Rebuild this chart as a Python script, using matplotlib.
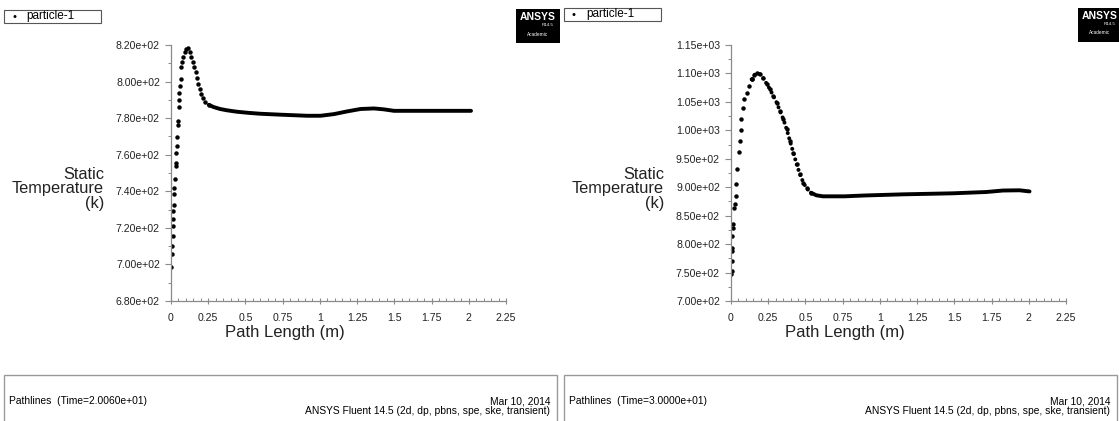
import numpy as np
import matplotlib.pyplot as plt
from matplotlib.patches import Rectangle
from matplotlib.ticker import MultipleLocator, FormatStrFormatter

plt.rcParams['font.family'] = ['Liberation Sans', 'DejaVu Sans']

# ---- data: path length (m) vs static temperature (K) ----
# left panel (Time=2.0060e+01)
left_dots_x = [0.002, 0.007, 0.009, 0.013, 0.013, 0.016, 0.016, 0.018, 0.020, 0.022,
               0.029, 0.031, 0.034, 0.036, 0.038, 0.040, 0.045, 0.049, 0.054, 0.056,
               0.056, 0.061, 0.065, 0.067, 0.076, 0.081, 0.092, 0.103, 0.115, 0.126,
               0.135, 0.146, 0.155, 0.166, 0.175, 0.184, 0.193, 0.204, 0.216, 0.231,
               0.254]
left_dots_t = [698.4, 705.7, 710.0, 715.7, 721.0, 724.8, 729.0, 732.6, 738.5, 741.6,
               746.7, 753.6, 755.4, 760.7, 764.6, 769.5, 776.2, 778.3, 786.2, 790.0,
               793.5, 797.7, 801.4, 807.8, 810.5, 813.2, 816.0, 817.8, 818.2, 816.0,
               813.2, 810.5, 807.8, 805.0, 801.8, 798.6, 795.9, 793.2, 790.8, 789.0,
               787.3]
left_trace_x = [0.254, 0.285, 0.33, 0.375, 0.443, 0.52, 0.6, 0.734, 0.914, 1.004,
                1.094, 1.184, 1.273, 1.363, 1.43, 1.498, 1.6, 1.8, 2.015]
left_trace_t = [787.3, 786.1, 785.0, 784.3, 783.5, 782.9, 782.4, 781.9, 781.3, 781.3,
                782.2, 783.7, 785.0, 785.3, 784.8, 784.0, 784.0, 784.0, 784.0]

# right panel (Time=3.0000e+01)
right_dots_x = [0.0, 0.004, 0.004, 0.004, 0.009, 0.009, 0.013, 0.016, 0.022, 0.027,
                0.031, 0.036, 0.043, 0.054, 0.060, 0.065, 0.069, 0.078, 0.090, 0.105,
                0.121, 0.139]
right_dots_t = [748.0, 752.7, 770.3, 787.9, 793.7, 814.3, 828.9, 834.8, 864.0, 870.0,
                884.6, 906.2, 932.6, 961.9, 981.2, 1000.6, 1019.4, 1039.8, 1054.5, 1066.2,
                1077.9, 1089.7]
right_fall_x = [0.139, 0.157, 0.177, 0.195, 0.217, 0.239, 0.262, 0.284, 0.307, 0.329,
                0.352, 0.374, 0.396, 0.419, 0.441, 0.463, 0.486, 0.508, 0.537]
right_fall_t = [1089.7, 1097.3, 1100.2, 1098.5, 1091.5, 1082.0, 1072.1, 1060.4, 1048.6, 1034.0,
                1019.4, 1001.8, 981.2, 960.7, 940.3, 922.7, 908.0, 898.1, 890.4]
right_trace_x = [0.537, 0.573, 0.617, 0.763, 0.9, 1.155, 1.49, 1.715, 1.826, 1.938, 2.005]
right_trace_t = [890.4, 885.8, 884.0, 884.0, 885.5, 887.5, 889.3, 891.6, 894.2, 894.6, 892.6]

panels = [
    dict(dx=left_dots_x, dt=left_dots_t, fx=[], ft=[], tx=left_trace_x, tt=left_trace_t,
         ylim=(680, 820), major=20, minor=10, time="2.0060e+01", off=0),
    dict(dx=right_dots_x, dt=right_dots_t, fx=right_fall_x, ft=right_fall_t,
         tx=right_trace_x, tt=right_trace_t,
         ylim=(700, 1150), major=50, minor=25, time="3.0000e+01", off=560),
]

W, H = 1119, 421
fig = plt.figure(figsize=(W / 100, H / 100), dpi=100)


def fx(px):
    return px / W


def fy(py):
    return 1 - py / H


axis_grey = "#8a8a8a"
for p in panels:
    o = p["off"]
    x0 = 171 + o
    ax = fig.add_axes([fx(x0), fy(301), 335 / W, 256 / H])
    ax.plot(p["dx"], p["dt"], "o", color="black", ms=3.2, mew=0)
    if p["fx"]:
        ax.plot(p["fx"], p["ft"], "o", color="black", ms=3.2, mew=0)
        ax.plot(p["fx"], p["ft"], color="black", lw=2.9,
                linestyle=(0, (0.01, 1.35)), dash_capstyle="round")
    ax.plot(p["tx"], p["tt"], color="black", lw=2.8, solid_capstyle="round")

    ax.set_xlim(0, 2.25)
    ax.set_ylim(*p["ylim"])
    ax.xaxis.set_major_locator(MultipleLocator(0.25))
    ax.xaxis.set_minor_locator(MultipleLocator(0.05))
    ax.yaxis.set_major_locator(MultipleLocator(p["major"]))
    ax.yaxis.set_minor_locator(MultipleLocator(p["minor"]))
    ax.xaxis.set_major_formatter(lambda v, pos: ("%g" % v))
    ax.yaxis.set_major_formatter(FormatStrFormatter("%.2e"))
    for s in ["top", "right"]:
        ax.spines[s].set_visible(False)
    for s in ["left", "bottom"]:
        ax.spines[s].set_color(axis_grey)
        ax.spines[s].set_linewidth(0.9)
    ax.tick_params(axis="x", which="major", direction="inout", length=5, width=0.8,
                   color=axis_grey, labelsize=7.6, pad=6, labelcolor="#222222")
    ax.tick_params(axis="x", which="minor", direction="in", length=2.5, width=0.7,
                   color=axis_grey)
    ax.tick_params(axis="y", which="major", direction="out", length=4, width=0.8,
                   color=axis_grey, labelsize=7.6, pad=4, labelcolor="#222222")
    ax.tick_params(axis="y", which="minor", direction="out", length=2.5, width=0.7,
                   color=axis_grey)
    ax.patch.set_alpha(0)

    # axis titles
    fig.text(fx(104 + o), fy(189), "Static\nTemperature\n(k)", ha="right", va="center",
             multialignment="right", fontsize=11.8, linespacing=0.95, color="#222222")
    fig.text(fx(285 + o), fy(333), "Path Length (m)", ha="center", va="center",
             fontsize=12, color="#222222")

    # legend box
    ly = 10 if o == 0 else 8
    fig.patches.append(Rectangle((fx(4 + o), fy(ly + 13)), 97 / W, 13 / H,
                                 transform=fig.transFigure, fill=False,
                                 edgecolor="#555555", lw=0.8))
    fig.text(fx(14 + o), fy(ly + 6.5), "\u2022", ha="center", va="center", fontsize=8)
    fig.text(fx(26 + o), fy(ly + 6.5), "particle-1", ha="left", va="center", fontsize=8.5)

    # ANSYS badge
    bx = 516 if o == 0 else 1078
    by = 9 if o == 0 else 8
    fig.patches.append(Rectangle((fx(bx), fy(by + 34)), 44 / W, 34 / H,
                                 transform=fig.transFigure, facecolor="black",
                                 edgecolor="none"))
    fig.text(fx(bx + 22), fy(by + 8), "ANSYS", ha="center", va="center", fontsize=7.5,
             fontweight="bold", color="white")
    fig.text(fx(bx + 38), fy(by + 16), "R14.5", ha="right", va="center", fontsize=3.2,
             color="white")
    fig.text(fx(bx + 22), fy(by + 25), "Academic", ha="center", va="center", fontsize=3.4,
             color="white")

    # footer box
    fig.patches.append(Rectangle((fx(4 + o), fy(430)), 553 / W, 55 / H,
                                 transform=fig.transFigure, fill=False,
                                 edgecolor="#9a9a9a", lw=1.0))
    fig.text(fx(9 + o), fy(401), "Pathlines  (Time=%s)" % p["time"], ha="left",
             va="center", fontsize=7.4)
    fig.text(fx(550 + o), fy(402), "Mar 10, 2014", ha="right", va="center", fontsize=7.4)
    fig.text(fx(550 + o), fy(411.5), "ANSYS Fluent 14.5 (2d, dp, pbns, spe, ske, transient)",
             ha="right", va="center", fontsize=7.4)

fig.savefig("out.png", dpi=100)
